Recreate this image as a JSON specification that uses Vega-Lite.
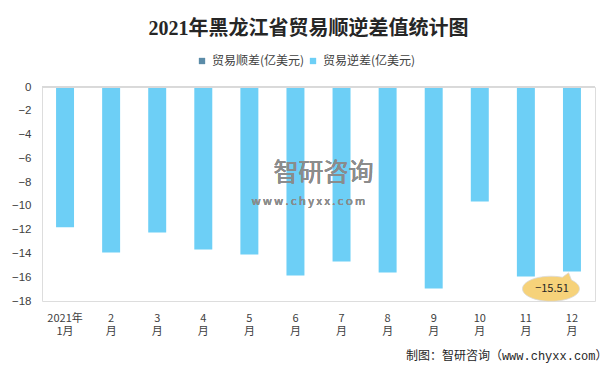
{
  "$schema": "https://vega.github.io/schema/vega-lite/v6.json",
  "autosize": "none",
  "width": 553,
  "height": 214,
  "padding": {"left": 42, "top": 87, "right": 19, "bottom": 69},
  "background": "white",
  "config": {
    "axisY": {
      "title": null,
      "domain": false,
      "ticks": false,
      "grid": false,
      "labelOverlap": false,
      "labelFont": "Liberation Sans",
      "labelFontSize": 11.5,
      "labelColor": "#404040",
      "labelPadding": 11,
      "tickCount": 10
    }
  },
  "title": {
    "text": "2021年黑龙江省贸易顺逆差值统计图",
    "font": "Liberation Serif, Noto Sans CJK SC",
    "fontSize": 20,
    "fontWeight": "bold",
    "color": "#262626",
    "anchor": "middle",
    "dx": -10,
    "offset": 16
  },
  "data": {
    "values": [
      {"month": "2021年1月", "series": "贸易逆差(亿美元)", "value": -11.8},
      {"month": "2月", "series": "贸易逆差(亿美元)", "value": -13.92},
      {"month": "3月", "series": "贸易逆差(亿美元)", "value": -12.24},
      {"month": "4月", "series": "贸易逆差(亿美元)", "value": -13.67},
      {"month": "5月", "series": "贸易逆差(亿美元)", "value": -14.09},
      {"month": "6月", "series": "贸易逆差(亿美元)", "value": -15.85},
      {"month": "7月", "series": "贸易逆差(亿美元)", "value": -14.68},
      {"month": "8月", "series": "贸易逆差(亿美元)", "value": -15.6},
      {"month": "9月", "series": "贸易逆差(亿美元)", "value": -16.94},
      {"month": "10月", "series": "贸易逆差(亿美元)", "value": -9.64},
      {"month": "11月", "series": "贸易逆差(亿美元)", "value": -15.94},
      {"month": "12月", "series": "贸易逆差(亿美元)", "value": -15.51}
    ]
  },
  "encoding": {
    "x": {
      "field": "month",
      "type": "nominal",
      "sort": null,
      "scale": {"paddingInner": 0.61, "paddingOuter": 0.305},
      "axis": {
        "orient": "bottom",
        "domain": false,
        "ticks": false,
        "labelAngle": 0,
        "labelFont": "Noto Sans CJK SC",
        "labelFontSize": 11,
        "labelColor": "#404040",
        "labelPadding": 11,
        "labelLineHeight": 13,
        "labelBaseline": "top",
        "labelOverlap": false,
        "labelExpr": "datum.value == '2021年1月' ? ['2021年', '1月'] : [replace(datum.value, '月', ''), '月']",
        "title": "制图：智研咨询（www.chyxx.com）",
        "titleFont": "Liberation Mono, Noto Sans CJK SC",
        "titleFontSize": 12,
        "titleFontWeight": "normal",
        "titleColor": "#262626",
        "titleAlign": "right",
        "titleBaseline": "middle",
        "titleX": 565,
        "titleY": 54
      }
    }
  },
  "layer": [
    {
      "mark": {"type": "bar"},
      "encoding": {
        "y": {
          "field": "value",
          "type": "quantitative",
          "scale": {"domain": [-18, 0], "nice": false},
          "axis": {
            "values": [-18, -16, -14, -12, -10, -8, -6, -4, -2, 0],
            "labelOverlap": false
          }
        },
        "color": {
          "field": "series",
          "type": "nominal",
          "scale": {
            "domain": ["贸易顺差(亿美元)", "贸易逆差(亿美元)"],
            "range": ["#5b8ca8", "#6dcff6"]
          },
          "legend": {
            "title": null,
            "orient": "none",
            "direction": "horizontal",
            "legendX": 154,
            "legendY": -32,
            "symbolType": "square",
            "symbolSize": 40,
            "symbolStrokeWidth": 0,
            "labelFont": "Noto Sans CJK SC",
            "labelFontSize": 12,
            "labelColor": "#404040",
            "labelOffset": 4,
            "columnPadding": 2
          }
        }
      }
    },
    {
      "mark": {"type": "rule", "color": "#d9d9d9", "strokeWidth": 1},
      "encoding": {"y": {"datum": 0, "type": "quantitative"}, "x": null}
    },
    {
      "mark": {"type": "text", "font": "Noto Sans CJK SC", "fontSize": 25, "color": "#8c8c8c", "opacity": 0.4, "dx": 28},
      "encoding": {
        "x": {"datum": "6月"},
        "y": {"datum": -7.2, "type": "quantitative"},
        "text": {"value": "智研咨询"}
      }
    },
    {
      "mark": {"type": "text", "font": "Noto Sans CJK SC", "fontSize": 11, "color": "#8c8c8c", "opacity": 0.4, "dx": 13},
      "encoding": {
        "x": {"datum": "6月"},
        "y": {"datum": -9.67, "type": "quantitative"},
        "text": {"value": "w  w  w  .  c  h  y  x  x  .  c  o  m"}
      }
    },
    {
      "transform": [{"filter": "datum.month == '12月'"}],
      "mark": {
        "type": "point",
        "shape": "M-1,0 A1,0.44 0 0,1 0.4,-0.403 L0.62,-0.56 L0.72,-0.305 A1,0.44 0 0,1 1,0 A1,0.44 0 0,1 0,0.44 A1,0.44 0 0,1 -1,0 Z",
        "size": 3249,
        "filled": true,
        "fill": "#f6d27a",
        "stroke": "#d9d9d9",
        "strokeWidth": 0.8,
        "opacity": 1,
        "xOffset": -21
      },
      "encoding": {
        "y": {"datum": -16.97, "type": "quantitative"}
      }
    },
    {
      "transform": [{"filter": "datum.month == '12月'"}],
      "mark": {"type": "text", "font": "Noto Sans CJK SC", "fontSize": 11, "color": "#262626", "xOffset": -20},
      "encoding": {
        "y": {"datum": -16.97, "type": "quantitative"},
        "text": {"field": "value", "type": "quantitative", "format": ".2f"}
      }
    }
  ]
}
